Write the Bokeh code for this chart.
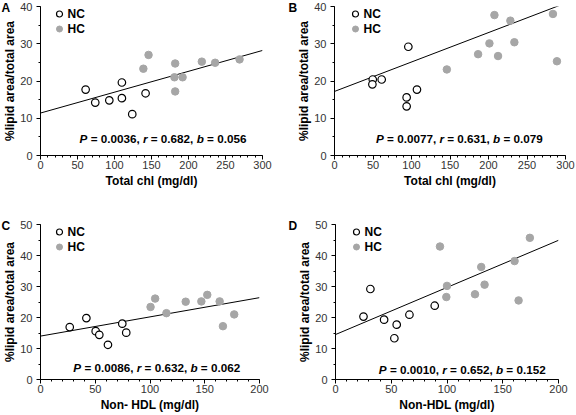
from bokeh.plotting import figure
from bokeh.models import Range1d, SingleIntervalTicker, Label, Legend, LegendItem, Title
from bokeh.layouts import column, row
from bokeh.embed import file_html
from bokeh.resources import INLINE

# ---------------- data ----------------
# Panel A: Total chl vs %lipid area
a_nc_x = [61, 74, 93, 110, 110, 124, 142]
a_nc_y = [17.7, 14.2, 14.8, 19.6, 15.4, 11.1, 16.7]
a_hc_x = [139, 146, 182, 181, 192, 182, 218, 236, 269]
a_hc_y = [23.3, 27.0, 24.7, 21.0, 21.0, 17.2, 25.2, 24.9, 25.8]
a_fit = [11.4, 0.056]          # intercept, slope
a_stats = ["0.0036", "0.682", "0.056"]

# Panel B: Total chl vs %lipid area
b_nc_x = [49.7, 49.2, 61.3, 95.9, 93.7, 93.7, 107.1]
b_nc_y = [20.4, 19.1, 20.4, 29.2, 15.6, 13.2, 17.7]
b_hc_x = [145.9, 186.5, 201.2, 207.7, 212.4, 228.4, 233.6, 283.7, 288.9]
b_hc_y = [23.1, 27.2, 30.1, 37.7, 26.7, 36.2, 30.4, 38.0, 25.3]
b_fit = [17.2, 0.079]
b_stats = ["0.0077", "0.631", "0.079"]

# Panel C: Non-HDL vs %lipid area
c_nc_x = [26.7, 41.9, 50.4, 53.7, 61.6, 74.7, 78.3]
c_nc_y = [16.9, 19.8, 15.6, 14.4, 11.2, 18.0, 15.1]
c_hc_x = [100.5, 104.7, 115.0, 132.6, 146.9, 152.3, 163.6, 166.6, 176.9]
c_hc_y = [23.4, 26.1, 21.4, 25.1, 25.2, 27.3, 25.2, 17.2, 21.0]
c_fit = [14.0, 0.062]
c_stats = ["0.0086", "0.632", "0.062"]

# Panel D: Non-HDL vs %lipid area
d_nc_x = [25.1, 31.3, 43.6, 52.8, 54.9, 66.3, 89.0]
d_nc_y = [20.3, 29.2, 19.3, 13.3, 17.7, 20.9, 23.8]
d_hc_x = [93.7, 100.0, 99.4, 125.1, 130.7, 133.7, 160.6, 164.2, 174.3]
d_hc_y = [42.9, 30.2, 26.6, 27.5, 36.3, 30.6, 38.2, 25.5, 45.7]
d_fit = [14.5, 0.152]
d_stats = ["0.0010", "0.652", "0.152"]

panel_letters = ["A", "B", "C", "D"]
x_titles = ["Total chl (mg/dl)", "Total chl (mg/dl)", "Non- HDL (mg/dl)", "Non-HDL (mg/dl)"]
y_title = "%lipid area/total area"
x_max = [300, 300, 200, 200]
y_max = [40, 40, 50, 50]
stats_pos = [(52.8, 4.5), (53.9, 4.45), (30.0, 4.0), (38.9, 3.1)]
series_names = ["NC", "HC"]

FONT = "Liberation Sans"
HC_COLOR = "#a6a6a6"

# Arial / Liberation Sans bold advance widths (per 1000 em)
W = {" ": 278, "=": 584, ".": 278, ",": 278, "P": 667, "r": 389, "b": 611}
for d in "0123456789":
    W[d] = 556


def tw(s, size):
    return sum(W[c] for c in s) * size / 1000.0


def make_panel(i, nc_x, nc_y, hc_x, hc_y, fit, stats, geom, leg_x):
    fw, fh, bl, br, bt, bb = geom
    p = figure(frame_width=fw, frame_height=fh,
               min_border_left=bl, min_border_right=br,
               min_border_top=bt, min_border_bottom=bb,
               x_range=Range1d(0, x_max[i]), y_range=Range1d(0, y_max[i]),
               output_backend="svg", toolbar_location=None,
               x_axis_label=x_titles[i], y_axis_label=y_title)
    p.outline_line_color = None
    p.xgrid.visible = False
    p.ygrid.visible = False
    p.background_fill_color = "white"
    p.border_fill_color = "white"

    p.xaxis.ticker = SingleIntervalTicker(interval=50, num_minor_ticks=5)
    p.yaxis.ticker = SingleIntervalTicker(interval=10, num_minor_ticks=2)
    for ax in (p.xaxis, p.yaxis):
        ax.axis_line_color = "black"
        ax.axis_line_width = 1
        ax.major_tick_line_color = "black"
        ax.minor_tick_line_color = "black"
        ax.major_tick_in = 0
        ax.major_tick_out = 4
        ax.minor_tick_in = 0
        ax.minor_tick_out = 2
        ax.major_label_text_font = FONT
        ax.major_label_text_font_size = "11px"
        ax.major_label_text_color = "#333333"
        ax.axis_label_text_font = FONT
        ax.axis_label_text_font_size = "12px"
        ax.axis_label_text_font_style = "bold"
        ax.axis_label_text_color = "black"
    p.xaxis.major_label_standoff = 1
    p.xaxis.axis_label_standoff = 2
    p.yaxis.major_label_standoff = 4
    p.yaxis.axis_label_standoff = 0

    # regression line
    lx = [0, x_max[i]]
    ly = [fit[0] + fit[1] * v for v in lx]
    p.line(lx, ly, line_color="black", line_width=1)

    r_nc = p.scatter(nc_x, nc_y, marker="circle", size=7.5, fill_color="white",
                     line_color="black", line_width=1.2)
    r_hc = p.scatter(hc_x, hc_y, marker="circle", size=7.5, fill_color=HC_COLOR,
                     line_color=HC_COLOR, line_width=1)

    leg = Legend(items=[LegendItem(label=series_names[0], renderers=[r_nc]),
                        LegendItem(label=series_names[1], renderers=[r_hc])],
                 location=(leg_x, fh - 30), orientation="vertical",
                 border_line_color=None, background_fill_alpha=0,
                 padding=0, margin=0, spacing=0,
                 glyph_width=18, glyph_height=15, label_height=15,
                 label_standoff=0,
                 label_text_font=FONT, label_text_font_size="12px",
                 label_text_font_style="bold", label_text_color="black",
                 label_text_baseline="middle")
    p.add_layout(leg, "center")

    # statistics text with italic symbols
    size = 11.7
    sx, sy = stats_pos[i]
    pieces = []
    prefix = ""
    for sym, val in zip(["P", "r", "b"], stats):
        pieces.append((sym, "bold italic", tw(prefix, size)))
        prefix += sym + " "
        tail = "= " + val + ("," if sym != "b" else "")
        pieces.append((tail, "bold", tw(prefix, size)))
        prefix += tail + " "
    for txt, style, off in pieces:
        p.add_layout(Label(x=sx, y=sy, x_offset=off, text=txt,
                           text_font=FONT, text_font_size=f"{size}px",
                           text_font_style=style, text_color="black",
                           text_align="left", text_baseline="middle"))

    # panel letter as a zero-height title beside the top of the y axis
    p.add_layout(Title(text=panel_letters[i], align="left", offset=-(bl - 1),
                       standoff=-16, vertical_align="bottom",
                       text_font=FONT, text_font_size="12px",
                       text_font_style="bold", text_color="black"), "above")
    return p


# frame_w, frame_h, border_left, border_right, border_top, border_bottom
geomA = (222, 149, 40, 25, 6, 57)
geomB = (231, 149, 47, 11, 6, 57)
geomC = (219, 155, 40, 28, 12, 36)
geomD = (223, 155, 48, 18, 12, 36)

pA = make_panel(0, a_nc_x, a_nc_y, a_hc_x, a_hc_y, a_fit, a_stats, geomA, 9.5)
pB = make_panel(1, b_nc_x, b_nc_y, b_hc_x, b_hc_y, b_fit, b_stats, geomB, 11.5)
pC = make_panel(2, c_nc_x, c_nc_y, c_hc_x, c_hc_y, c_fit, c_stats, geomC, 9.5)
pD = make_panel(3, d_nc_x, d_nc_y, d_hc_x, d_hc_y, d_fit, d_stats, geomD, 11.5)

layout = column(row(pA, pB, spacing=0), row(pC, pD, spacing=0), spacing=0)

open("out.html", "w").write(file_html(layout, INLINE))
